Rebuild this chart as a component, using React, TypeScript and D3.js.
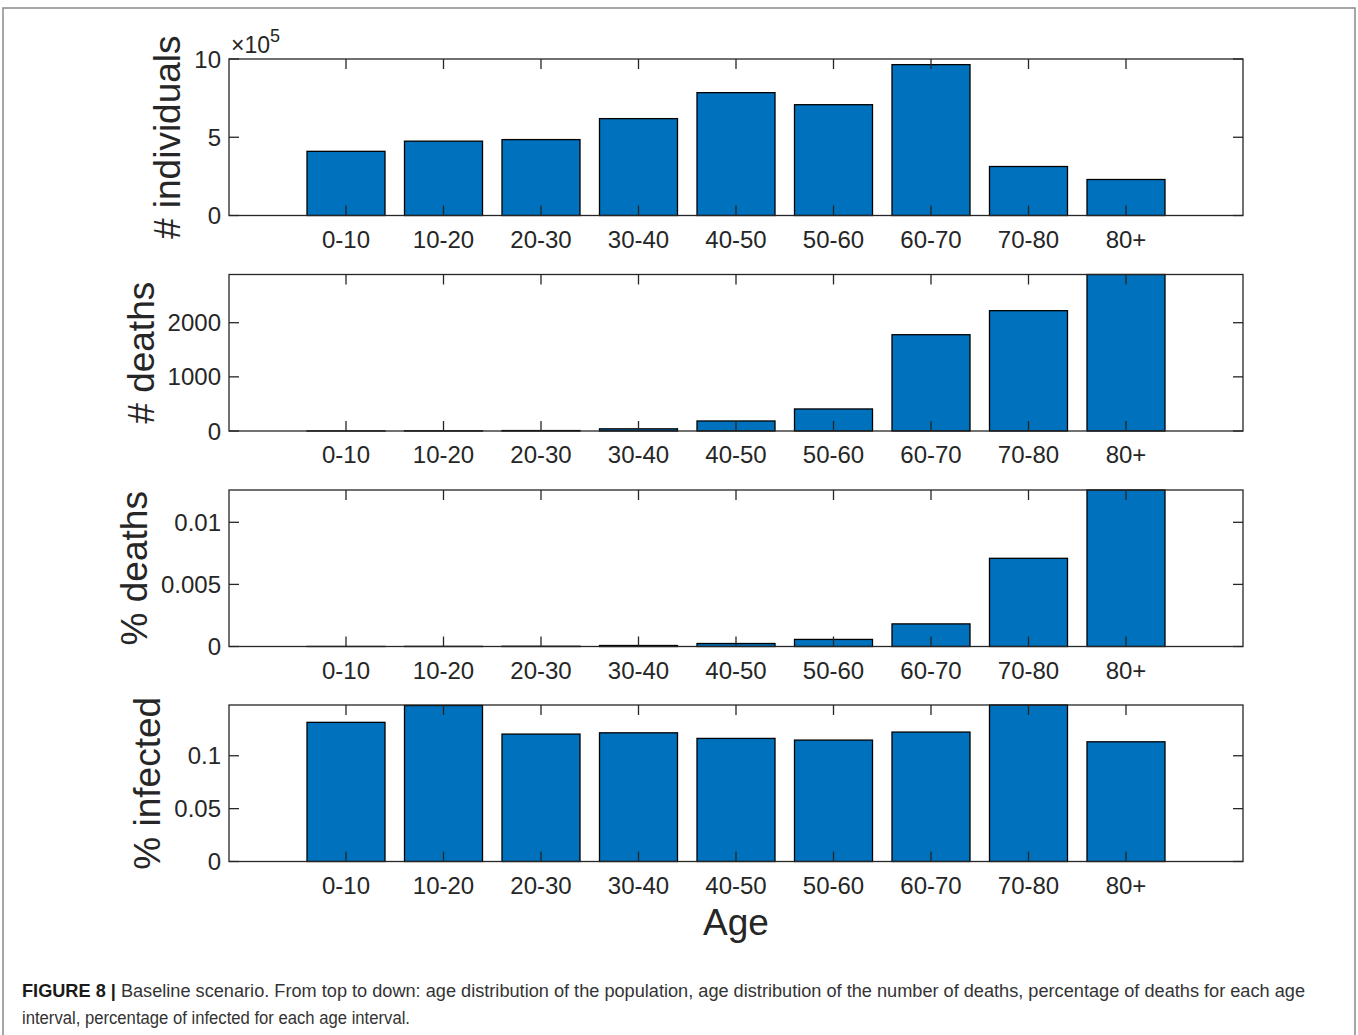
import React from "react";
import * as d3 from "d3";

const categories = ["0-10", "10-20", "20-30", "30-40", "40-50", "50-60", "60-70", "70-80", "80+"];
const individuals = [4.1, 4.75, 4.85, 6.19, 7.85, 7.08, 9.64, 3.13, 2.3]; // x 10^5
const deaths = [1, 3, 8, 40, 185, 407, 1778, 2222, 2890];
const pctDeaths = [0.000005, 0.00001, 0.00002, 0.00008, 0.00024, 0.00057, 0.00182, 0.0071, 0.0126];
const pctInfected = [0.1316, 0.1475, 0.1205, 0.1217, 0.1164, 0.1148, 0.1224, 0.148, 0.1132];

const ticksIndividuals = [0, 5, 10];
const ticksDeaths = [0, 1000, 2000];
const ticksPctDeaths = [0, 0.005, 0.01];
const ticksPctInfected = [0, 0.05, 0.1];

const FONT = "'Liberation Sans', Arial, Helvetica, sans-serif";
const TXT = "#262626";
const BAR = "#0072BD";

function measure(text: string, size: number): number {
  if (typeof document === "undefined") return text.length * size * 0.55;
  const c = document.createElement("canvas");
  const ctx = c.getContext("2d");
  if (!ctx) return text.length * size * 0.55;
  ctx.font = `${size}px ${FONT}`;
  return ctx.measureText(text).width;
}

type PanelProps = {
  top: number;
  values: number[];
  domainMax: number;
  ticks: number[];
  tickFmt: (v: number) => string;
  label: string;
  exponent?: string;
};

const LEFT = 229;
const RIGHT = 1243;
const H = 156.5;
const TICK = 10;
const TICK_FS = 24;
const LABEL_FS = 37;

const x = d3.scaleLinear().domain([-0.2, 10.2]).range([LEFT, RIGHT]);

function Panel({ top, values, domainMax, ticks, tickFmt, label, exponent }: PanelProps) {
  const bottom = top + H;
  const y = d3.scaleLinear().domain([0, domainMax]).range([bottom, top]);
  const tickLabels = ticks.map(tickFmt);
  const maxW = d3.max(tickLabels, (t) => measure(t, TICK_FS)) || 0;
  const labelX = LEFT - 8 - maxW - 14;
  return (
    <g>
      {values.map((v, i) => (
        <rect
          key={i}
          x={x(i + 1 - 0.4)}
          y={y(v)}
          width={x(i + 1 + 0.4) - x(i + 1 - 0.4)}
          height={Math.max(0, bottom - y(v))}
          fill={BAR}
          stroke="#000"
          strokeWidth={1.3}
        />
      ))}
      <rect x={LEFT} y={top} width={RIGHT - LEFT} height={H} fill="none" stroke={TXT} strokeWidth={1.3} />
      {categories.map((c, i) => (
        <g key={c}>
          <line x1={x(i + 1)} x2={x(i + 1)} y1={bottom} y2={bottom - TICK} stroke={TXT} strokeWidth={1.3} />
          <line x1={x(i + 1)} x2={x(i + 1)} y1={top} y2={top + TICK} stroke={TXT} strokeWidth={1.3} />
          <text x={x(i + 1)} y={bottom + 32} textAnchor="middle" fontSize={TICK_FS} fill={TXT} fontFamily={FONT}>
            {c}
          </text>
        </g>
      ))}
      {ticks.map((t, i) => (
        <g key={t}>
          <line x1={LEFT} x2={LEFT + TICK} y1={y(t)} y2={y(t)} stroke={TXT} strokeWidth={1.3} />
          <line x1={RIGHT} x2={RIGHT - TICK} y1={y(t)} y2={y(t)} stroke={TXT} strokeWidth={1.3} />
          <text
            x={LEFT - 8}
            y={y(t)}
            textAnchor="end"
            dominantBaseline="central"
            fontSize={TICK_FS}
            fill={TXT}
            fontFamily={FONT}
          >
            {tickLabels[i]}
          </text>
        </g>
      ))}
      {exponent && (
        <text x={LEFT + 2} y={top - 6} fontSize={23} fill={TXT} fontFamily={FONT}>
          {"\u00D710"}
          <tspan dy={-11} fontSize={18}>
            {exponent}
          </tspan>
        </text>
      )}
      <text
        transform={`translate(${labelX},${(top + bottom) / 2}) rotate(-90)`}
        textAnchor="middle"
        fontSize={LABEL_FS}
        fill={TXT}
        fontFamily={FONT}
      >
        {label}
      </text>
    </g>
  );
}

export default function App() {
  const tops = [59, 274.5, 490, 705];
  return (
    <svg
      width={1358}
      height={1035}
      style={{ position: "absolute", left: 0, top: 0, background: "#fff" }}
      fontFamily={FONT}
    >
      <rect x={0} y={0} width={1358} height={1035} fill="#fff" />
      <path d="M3,1040 L3,8 L1355,8 L1355,1040" fill="none" stroke="#8a8a8a" strokeWidth={1.5} />
      <Panel
        top={tops[0]}
        values={individuals}
        domainMax={10}
        ticks={ticksIndividuals}
        tickFmt={(v) => String(v)}
        label="# individuals"
        exponent="5"
      />
      <Panel
        top={tops[1]}
        values={deaths}
        domainMax={d3.max(deaths) as number}
        ticks={ticksDeaths}
        tickFmt={(v) => String(v)}
        label="# deaths"
      />
      <Panel
        top={tops[2]}
        values={pctDeaths}
        domainMax={d3.max(pctDeaths) as number}
        ticks={ticksPctDeaths}
        tickFmt={(v) => String(v)}
        label="% deaths"
      />
      <Panel
        top={tops[3]}
        values={pctInfected}
        domainMax={d3.max(pctInfected) as number}
        ticks={ticksPctInfected}
        tickFmt={(v) => String(v)}
        label="% infected"
      />
      <text x={736} y={935} textAnchor="middle" fontSize={37} fill={TXT} fontFamily={FONT}>
        Age
      </text>
      <text x={22} y={997} fontSize={17.5} fill="#333" fontFamily={FONT} textLength={1283} lengthAdjust="spacingAndGlyphs">
        <tspan fontWeight="bold" fill="#1a1a1a">FIGURE 8 |</tspan>
        {" Baseline scenario. From top to down: age distribution of the population, age distribution of the number of deaths, percentage of deaths for each age"}
      </text>
      <text x={22} y={1024} fontSize={17.5} fill="#333" fontFamily={FONT} textLength={388} lengthAdjust="spacingAndGlyphs">
        interval, percentage of infected for each age interval.
      </text>
    </svg>
  );
}
